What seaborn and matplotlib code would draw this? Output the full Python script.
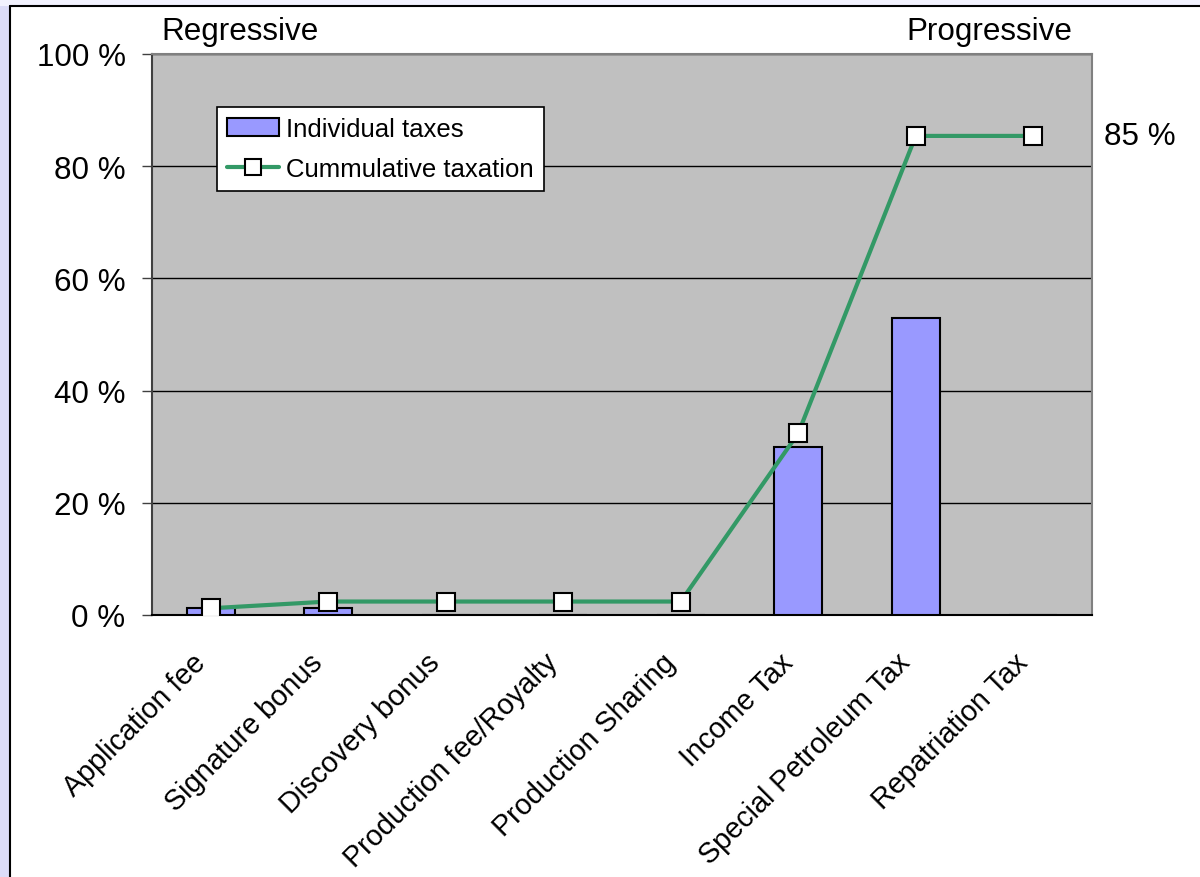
import seaborn as sns
import numpy as np
import matplotlib.pyplot as plt
from matplotlib.patches import Patch, Rectangle
from matplotlib.lines import Line2D

# Data
categories = ['Application fee', 'Signature bonus', 'Discovery bonus',
              'Production fee/Royalty', 'Production Sharing', 'Income Tax',
              'Special Petroleum Tax', 'Repatriation Tax']
individual = [1.2, 1.2, 0, 0, 0, 30, 53, 0]
cumulative = [1.2, 2.4, 2.4, 2.4, 2.4, 32.4, 85.4, 85.4]
yticks = [0, 20, 40, 60, 80, 100]
ytick_labels = ['0 %', '20 %', '40 %', '60 %', '80 %', '100 %']

bar_color = '#9999FF'
line_color = '#339966'
fs = 22.6

sns.set_style('white')
plt.rcParams['font.family'] = ['Liberation Sans', 'DejaVu Sans']
plt.rcParams['text.color'] = 'black'
plt.rcParams['xtick.color'] = 'black'
plt.rcParams['ytick.color'] = 'black'

fig = plt.figure(figsize=(12, 8.78), dpi=100)
# lavender frame on the left and top edges, black border
fig.patches.append(Rectangle((0, 0), 10 / 1200, 1, transform=fig.transFigure,
                             facecolor='#DCDCF8', edgecolor='none', zorder=0))
fig.patches.append(Rectangle((0, 1 - 7 / 878), 1, 7 / 878, transform=fig.transFigure,
                             facecolor='#F2F2FE', edgecolor='none', zorder=0))
fig.add_artist(Line2D([10 / 1200, 10 / 1200], [0, 1 - 7 / 878], transform=fig.transFigure,
                      color='black', linewidth=1.5))
fig.add_artist(Line2D([10 / 1200, 1], [1 - 7 / 878, 1 - 7 / 878], transform=fig.transFigure,
                      color='black', linewidth=1.5))

ax = fig.add_axes([152 / 1200, 1 - 616 / 878, 940 / 1200, 561 / 878])
ax.set_facecolor('#C0C0C0')

sns.barplot(x=categories, y=individual, color=bar_color, width=0.41,
            edgecolor='black', linewidth=1.5, saturation=1, ax=ax, zorder=3)
sns.lineplot(x=np.arange(len(categories)), y=cumulative, color=line_color,
             linewidth=3, marker='s', markersize=13.5, markerfacecolor='white',
             markeredgecolor='black', markeredgewidth=1.5, ax=ax, zorder=4)

ax.set_xlim(-0.5, len(categories) - 0.5)
ax.set_ylim(0, 100)
ax.set_yticks(yticks)
ax.set_yticklabels(ytick_labels, fontsize=fs)
ax.yaxis.grid(True, color='black', linewidth=1)
ax.set_axisbelow(True)

ax.set_xticks(np.arange(len(categories)))
ax.set_xticklabels(categories, rotation=45, ha='right', va='bottom',
                   rotation_mode='anchor', fontsize=20.7)
ax.set_xticks(np.arange(len(categories) + 1) - 0.5, minor=True)
ax.tick_params(axis='x', which='major', length=0, pad=38)
ax.tick_params(axis='x', which='minor', length=7, width=1, color='#404040', direction='out')
ax.tick_params(axis='y', length=7, width=1, color='#404040', direction='out', pad=12,
               left=True, labelcolor='black')
ax.set_xlabel('')
ax.set_ylabel('')

for side in ['top', 'right']:
    ax.spines[side].set_color('#808080')
    ax.spines[side].set_linewidth(1.5)
ax.spines['left'].set_color('#404040')
ax.spines['bottom'].set_color('black')
ax.spines['left'].set_linewidth(1.5)
ax.spines['bottom'].set_linewidth(1.5)

ax.text(0.01, 1.015, 'Regressive', transform=ax.transAxes, fontsize=fs,
        ha='left', va='bottom')
ax.text(0.979, 1.015, 'Progressive', transform=ax.transAxes, fontsize=fs,
        ha='right', va='bottom')
ax.text(1.013, cumulative[-1], f'{cumulative[-1]:.0f} %', transform=ax.get_yaxis_transform(),
        fontsize=fs, ha='left', va='center')

handles = [Patch(facecolor=bar_color, edgecolor='black', linewidth=1.5),
           Line2D([], [], color=line_color, linewidth=3, marker='s', markersize=12,
                  markerfacecolor='white', markeredgecolor='black', markeredgewidth=1.5)]
leg = ax.legend(handles, ['Individual taxes', 'Cummulative taxation'],
                loc='upper left', bbox_to_anchor=(0.069, 0.906), fontsize=18.5,
                frameon=True, fancybox=False, framealpha=1, edgecolor='black',
                borderpad=0.4, handlelength=2.0, handletextpad=0.3, labelspacing=0.62,
                borderaxespad=0)
leg.get_frame().set_linewidth(1.2)

fig.savefig('out.png', dpi=100)
